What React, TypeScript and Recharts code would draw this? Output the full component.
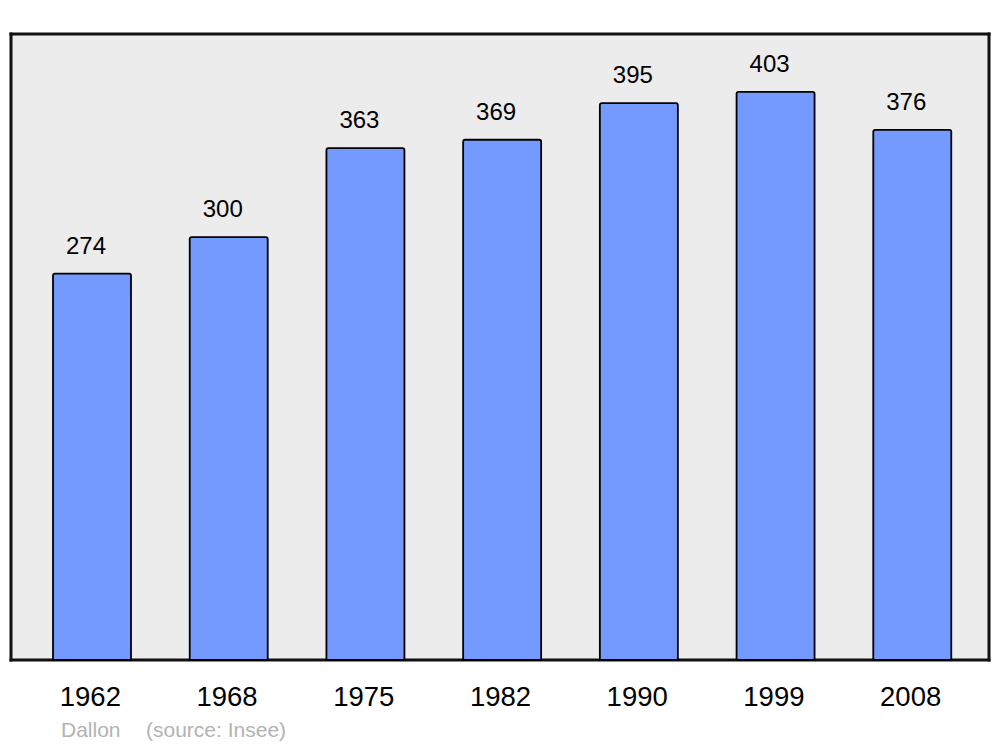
import React from "react";
import {
  BarChart,
  Bar,
  XAxis,
  YAxis,
  CartesianGrid,
  LabelList,
  Customized,
} from "recharts";

const years = ["1962", "1968", "1975", "1982", "1990", "1999", "2008"];
const population = [274, 300, 363, 369, 395, 403, 376];

const data = years.map((y, i) => ({ year: y, pop: population[i] }));

const FONT = "'Liberation Sans', Arial, sans-serif";

const Footnote = () => (
  <text x={61} y={737} fontFamily={FONT} fontSize={21} fill="#b3b3b3">
    <tspan>Dallon</tspan>
    <tspan x={146}>(source: Insee)</tspan>
  </text>
);

const hGen = ({ offset }: any) => [offset.top, offset.top + offset.height];
const vGen = ({ offset }: any) => [offset.left, offset.left + offset.width];

export default function App() {
  return (
    <div style={{ position: "absolute", left: 0, top: 0, width: 1000, height: 747, background: "#fff" }}>
      <BarChart
        width={1000}
        height={747}
        data={data}
        margin={{ top: 34, right: 11, bottom: 47, left: 11 }}
        barSize={78}
      >
        <CartesianGrid fill="#ececec" horizontal={false} vertical={false} />
        <XAxis
          dataKey="year"
          height={40}
          axisLine={false}
          tickLine={false}
          tickSize={0}
          tickMargin={26}
          padding={{ left: 13, right: 8 }}
          tick={{ fill: "#000", fontSize: 27.5, fontFamily: FONT, dx: -2 }}
          interval={0}
        />
        <YAxis hide domain={[0, 444]} width={0} />
        <Bar
          dataKey="pop"
          fill="#7499ff"
          stroke="#000"
          strokeWidth={1.8}
          radius={[2, 2, 0, 0]}
          isAnimationActive={false}
        >
          <LabelList
            dataKey="pop"
            position="top"
            offset={20}
            dx={-6}
            fill="#000"
            fontSize={24}
            fontFamily={FONT}
          />
        </Bar>
        <CartesianGrid
          horizontalCoordinatesGenerator={hGen}
          verticalCoordinatesGenerator={vGen}
          stroke="#111"
          strokeWidth={3}
          strokeLinecap="square"
          fill="none"
        />
        <Customized component={Footnote} />
      </BarChart>
    </div>
  );
}
